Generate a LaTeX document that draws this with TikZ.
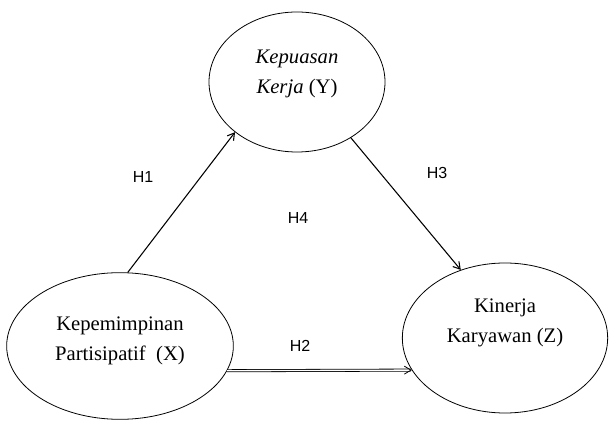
\documentclass[tikz,border=0pt]{standalone}
\usepackage{fontspec}
\setmainfont{Liberation Serif}
\setsansfont{Liberation Sans}
\usetikzlibrary{shapes.geometric,arrows.meta}

\tikzset{
  var/.style={draw, semithick, ellipse, inner sep=0pt, align=center,
    font=\fontsize{15.5}{22.5}\selectfont},
  hyp/.style={font=\sffamily\fontsize{12}{13}\selectfont},
  path/.style={-{Straight Barb[length=5pt,width=6pt]}, thick}
}

\begin{document}
\begin{tikzpicture}[x=0.75pt, y=-0.75pt]

  \useasboundingbox (0,0) rectangle (613,423);

  % nodes
  \node [var, minimum width=132pt, minimum height=105pt, text depth=16pt]
    (y) at (297,82) {\textit{Kepuasan}\\\textit{Kerja} (Y)};
  \node [var, minimum width=170pt, minimum height=110pt, text depth=11.5pt]
    (x) at (120,346) {Kepemimpinan\\Partisipatif\ \ (X)};
  \node [var, minimum width=154pt, minimum height=112.5pt, text depth=26pt]
    (z) at (505,338) {Kinerja\\Karyawan (Z)};

  \node [hyp] (h1) at (143,177) {H1};
  \node [hyp] (h3) at (437,173) {H3};
  \node [hyp] (h4) at (298,218) {H4};
  \node [hyp] (h2) at (300,346) {H2};

  % arrows
  \draw [path] (x.84.5) -- (y.219);
  \draw [path] (y.314) -- (z.123);
  \draw [path, double, double distance=1pt, semithick] (x.-13.3) -- (z.199.7);

\end{tikzpicture}
\end{document}
